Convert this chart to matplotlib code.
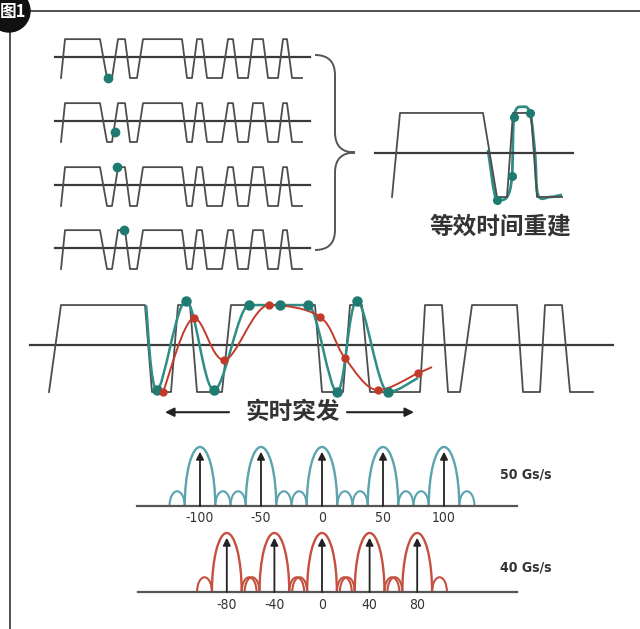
import numpy as np
import matplotlib
matplotlib.use("Agg")
import matplotlib.pyplot as plt
from matplotlib.path import Path
from matplotlib.patches import PathPatch, Arc, Circle
from matplotlib.transforms import Affine2D
from matplotlib import font_manager

plt.rcParams['font.family'] = ['Noto Sans CJK SC', 'DejaVu Sans']

# digital pattern, 1 = high, 0 = low (same bit pattern in every capture)
LEVELS = [0, 1, 1, 0, 0, 1, 1, 0, 0, 1, 1, 0, 0, 1, 1, 0, 0, 1, 1, 0, 0, 1, 1, 0, 0, 1, 1, 0, 0]
HIGH, LOW = 0.85, -1.0

# small repeated acquisitions (time in arbitrary units)
SMALL_T = [0, 4, 39, 46, 51, 57, 64, 69, 76, 82, 121, 126, 131, 136, 141,
           146, 161, 167, 172, 177, 187, 192, 202, 207, 217, 222, 226, 231, 241]
SMALL_SAMPLE_T = [47, 54, 56, 63]
SMALL_SAMPLE_V = [-1.0, -0.52, 0.86, 0.86]

# long real-time record
BIG_T = [0, 12, 96, 103, 122, 129, 141, 148, 173, 182, 266, 273, 294, 301, 313,
         321, 371, 376, 393, 399, 411, 423, 468, 474, 491, 496, 513, 521, 544]
# 50 GS/s samples (teal) and 40 GS/s samples (red)
TEAL_T = [97, 108, 137, 165, 200, 231, 259, 288, 308, 339, 369]
TEAL_V = [0.85, -0.96, 0.94, -0.96, 0.85, 0.85, 0.85, -1.0, 0.94, -1.0, -0.70]
TEAL_DOTS = slice(1, 10)
RED_T = [114, 145, 175, 220, 271, 296, 329, 369, 383]
RED_V = [-1.0, 0.57, -0.32, 0.85, 0.60, -0.28, -0.96, -0.60, -0.47]
RED_DOTS = slice(0, 8)

# equivalent-time reconstruction
REC_T = [0, 8, 91, 105, 115, 121, 139, 145, 170]
REC_V = [-1.0, 0.91, 0.91, -1.0, -1.0, 0.91, 0.91, -1.0, -1.0]
REC_TEAL_T = [96, 105, 115, 120, 122, 130, 138, 143, 146, 158, 170]
REC_TEAL_V = [0.07, -1.07, -1.0, -0.52, 0.82, 1.05, 0.91, 0.0, -0.95, -1.0, -0.95]
REC_DOTS = [1, 3, 4, 6]

# spectra (GHz)
TOP_CENTERS = [-100, -50, 0, 50, 100]
BOTTOM_CENTERS = [-80, -40, 0, 40, 80]
LOBE_HALF = 12.5
SIDE_HEIGHT = 0.25
ARROW_HEIGHT = 0.92

GRAY = '#4d4d4d'
BASE = '#3a3a3a'
TEAL = '#2f8d86'
TEAL_DOT = '#1f7a72'
RED = '#c23b2a'
SPEC_TEAL = '#5ba3ae'
SPEC_RED = '#c5503f'

fig = plt.figure(figsize=(6.4, 6.29), dpi=100)
ax = fig.add_axes([0, 0, 1, 1])
ax.set_xlim(0, 640)
ax.set_ylim(629, 0)
ax.axis('off')


def panel(x0, y0, sx, sy):
    return Affine2D().scale(sx, -sy).translate(x0, y0) + ax.transData


def smooth(t, v):
    # cubic through the samples; flat at extrema so peaks sit on the dots
    p = np.column_stack([t, v]).astype(float)
    n = len(p)
    tan = np.zeros_like(p)
    for i in range(n):
        a, b = p[max(i - 1, 0)], p[min(i + 1, n - 1)]
        tan[i] = (b - a) / 2
        if 0 < i < n - 1 and (p[i, 1] - a[1]) * (b[1] - p[i, 1]) <= 0:
            tan[i, 1] = 0
    verts, codes = [p[0]], [Path.MOVETO]
    for i in range(n - 1):
        verts += [p[i] + tan[i] / 3, p[i + 1] - tan[i + 1] / 3, p[i + 1]]
        codes += [Path.CURVE4] * 3
    return Path(verts, codes)


levels = np.where(np.array(LEVELS) == 1, HIGH, LOW)

# frame and badge
ax.plot([28, 640], [11, 11], color='#333', lw=1.2)
ax.plot([10, 10], [30, 629], color='#333', lw=1.2)
ax.add_patch(Circle((9, 11), 21, color='#111', zorder=5))
ax.text(13, 12, '图1', color='white', fontsize=12, fontweight='bold',
        ha='center', va='center', zorder=6)

# small acquisitions
for i, base in enumerate([57, 121, 185, 248]):
    T = panel(61, base, 1, 21)
    ax.plot([-6, 249], [0, 0], color=BASE, lw=1.6, transform=T)
    ax.plot(SMALL_T, levels, color=GRAY, lw=1.3, transform=T)
    ax.plot(SMALL_SAMPLE_T[i], SMALL_SAMPLE_V[i], 'o', color=TEAL_DOT,
            ms=6, transform=T, zorder=4)

# brace
bx, btop, bbot, btip, bmid = 315, 55, 250, 355, 335
ym = (btop + bbot) / 2
brace = Path([(bx, btop), (bmid, btop), (bmid, btop + 20), (bmid, ym - 20),
              (bmid, ym), (btip, ym), (bmid, ym), (bmid, ym + 20),
              (bmid, bbot - 20), (bmid, bbot), (bx, bbot)],
             [Path.MOVETO, Path.CURVE3, Path.CURVE3, Path.LINETO,
              Path.CURVE3, Path.CURVE3, Path.CURVE3, Path.CURVE3,
              Path.LINETO, Path.CURVE3, Path.CURVE3])
ax.add_patch(PathPatch(brace, fill=False, color='#555', lw=1.4))

# reconstruction
T = panel(392, 153, 1, 44)
ax.plot([-17, 181], [0, 0], color=BASE, lw=1.6, transform=T)
ax.plot(REC_T, REC_V, color=GRAY, lw=1.3, transform=T)
ax.add_patch(PathPatch(smooth(REC_TEAL_T, REC_TEAL_V), fill=False,
                       color=TEAL, lw=2.0, transform=T))
ax.plot([REC_TEAL_T[k] for k in REC_DOTS], [REC_TEAL_V[k] for k in REC_DOTS],
        'o', color=TEAL_DOT, ms=5.5, transform=T, zorder=4)
ax.text(108, -1.68, '等效时间重建', fontsize=17, fontweight='bold', color='#333',
        ha='center', va='center', transform=T)

# real-time record
T = panel(49, 345, 1, 47)
ax.plot([-19, 564], [0, 0], color=BASE, lw=1.6, transform=T)
ax.plot(BIG_T, levels, color=GRAY, lw=1.3, transform=T)
ax.add_patch(PathPatch(smooth(TEAL_T, TEAL_V), fill=False, color=TEAL,
                       lw=1.8, transform=T, zorder=3))
ax.add_patch(PathPatch(smooth(RED_T, RED_V), fill=False, color=RED,
                       lw=1.4, transform=T, zorder=3))
ax.plot(TEAL_T[TEAL_DOTS], TEAL_V[TEAL_DOTS], 'o', color=TEAL_DOT, ms=6.5,
        transform=T, zorder=4)
ax.plot(RED_T[RED_DOTS], RED_V[RED_DOTS], 'o', color=RED, ms=5,
        transform=T, zorder=5)

ax.text(244, -1.43, '实时突发', fontsize=17, fontweight='bold', color='#333',
        ha='center', va='center', transform=T)
for a, b in [(180, 116), (298, 365)]:
    ax.annotate('', xy=(b, -1.43), xytext=(a, -1.43), xycoords=T,
                arrowprops=dict(arrowstyle='-|>', color='#222', lw=1.5,
                                mutation_scale=13, shrinkA=0, shrinkB=0))

# spectra
names = {f.name for f in font_manager.fontManager.ttflist}
if 'Liberation Sans Narrow' in names:
    num_font, stretch = ['Liberation Sans Narrow'], 'normal'
else:
    num_font, stretch = ['DejaVu Sans'], 'condensed'

for centers, x_scale, base, fmin, fmax, color, label, label_y, lab_off in [
        (TOP_CENTERS, 1.22, 506, -152, 160, SPEC_TEAL, '50 Gs/s', 0.53, -0.21),
        (BOTTOM_CENTERS, 1.19, 592, -155, 164, SPEC_RED, '40 Gs/s', 0.42, -0.22)]:
    T = panel(322, base, x_scale, 59)
    ax.plot([fmin, fmax], [0, 0], color='#555', lw=1.6, transform=T)
    for fc in centers:
        ax.add_patch(Arc((fc, 0), 2 * LOBE_HALF, 2.0, theta1=0, theta2=180,
                         color=color, lw=1.7, transform=T))
        for s in (-1.5, 1.5):
            ax.add_patch(Arc((fc + s * LOBE_HALF, 0), LOBE_HALF, 2 * SIDE_HEIGHT,
                             theta1=0, theta2=180, color=color, lw=1.5,
                             transform=T))
        ax.annotate('', xy=(fc, ARROW_HEIGHT), xytext=(fc, 0), xycoords=T,
                    arrowprops=dict(arrowstyle='-|>', color='#222', lw=1.3,
                                    mutation_scale=11, shrinkA=0, shrinkB=0))
        ax.text(fc, lab_off, str(fc), family=num_font, fontstretch=stretch,
                fontsize=10, color='#333', ha='center', va='center',
                transform=T)
    ax.text((526 - 322) / x_scale, label_y, label, family=num_font,
            fontstretch=stretch, fontsize=10, fontweight='bold', color='#333',
            ha='center', va='center', transform=T)

fig.savefig('out.png', dpi=100, facecolor='white')
